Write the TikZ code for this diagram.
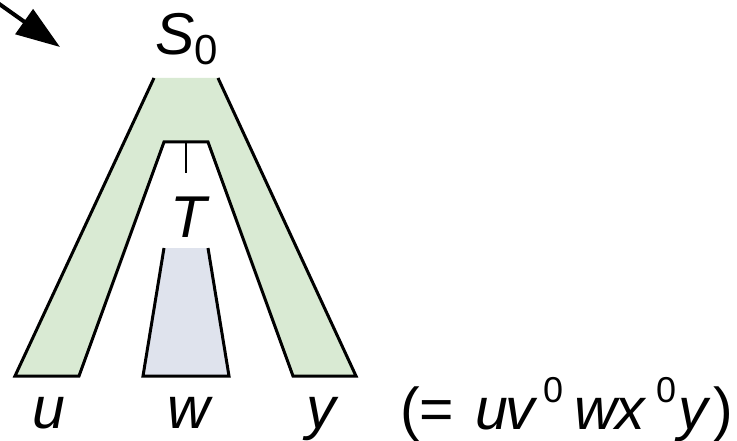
\documentclass[tikz,border=0pt]{standalone}
\usepackage{fontspec}
\setmainfont{Liberation Sans}
\usetikzlibrary{arrows.meta}
\definecolor{leggreen}{RGB}{217,234,211}
\definecolor{wgray}{RGB}{223,227,237}
\tikzset{
  outline/.style={line width=3pt, line join=miter},
  lbl/.style={inner sep=0pt, anchor=base, font=\fontsize{59}{59}\selectfont\itshape},
  bigarrow/.style={line width=4pt, -{Triangle[length=44pt,width=30pt]}},
}
\newcommand{\supz}{\raisebox{27pt}{\upshape\fontsize{36}{36}\selectfont 0}}
\newcommand{\putat}[2]{\rlap{\kern#1pt #2}}
\begin{document}
\begin{tikzpicture}[x=1pt,y=-1pt]
\useasboundingbox (0,0) rectangle (737,441);
\begin{scope}
\clip (0,0) rectangle (737,441);
% arrow
\coordinate (astart) at (-12,-4);
\coordinate (atip) at (60,47);
\draw[bigarrow] (astart) -- (atip);
\end{scope}
% green inverted V (tree of S0 minus subtree T)
\fill[leggreen] (15,376) -- (154,78) -- (218,78) -- (356,376) -- (293,376) -- (208,142) -- (164,142) -- (79,376) -- cycle;
\draw[outline] (154,78) -- (15,376) -- (79,376) -- (164,142) -- (208,142) -- (293,376) -- (356,376) -- (218,78);
% gray subtree
\fill[wgray] (164,248) -- (143,376) -- (229,376) -- (208,248) -- cycle;
\draw[outline] (164,248) -- (143,376) -- (229,376) -- (208,248);
% small line to T
\coordinate (ttop) at (186,142);
\coordinate (tbot) at (186,173);
\draw[line width=2pt] (ttop) -- (tbot);
% labels
\node[lbl, anchor=base west] (s0) at (155,55) {S\raisebox{-10pt}{\upshape\fontsize{42}{42}\selectfont 0}};
\node[lbl] (t) at (189,237) {T};
\node[lbl] (u) at (49,428) {u};
\node[lbl] (w) at (189,428) {w};
\node[lbl] (y) at (321,428) {y};
\node[lbl, anchor=base west] (expr) at (400,429) {%
\putat{0}{\upshape(}%
\putat{19}{\upshape=}%
\putat{75}{u}%
\putat{105}{v}%
\putat{143}{\supz}%
\putat{174}{w}%
\putat{215}{x}%
\putat{256}{\supz}%
\putat{278}{y}%
\putat{313}{\upshape)}%
\kern332pt};
\end{tikzpicture}
\end{document}
